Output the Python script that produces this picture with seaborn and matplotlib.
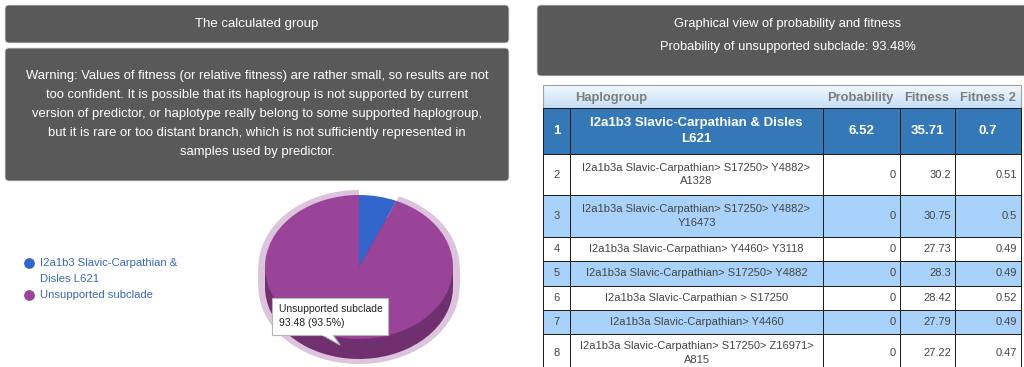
import textwrap
import numpy as np
import matplotlib
matplotlib.use('Agg')
import matplotlib.pyplot as plt
import matplotlib.patches as mpatches
from matplotlib.colors import ListedColormap, LinearSegmentedColormap
import seaborn as sns

# pie data
pie_labels = ['I2a1b3 Slavic-Carpathian & Disles L621', 'Unsupported subclade']
pie_values = [6.52, 93.48]
pie_colors = ['#3366cc', '#994499']

# table data
ranks = [1, 2, 3, 4, 5, 6, 7, 8]
haplogroups = [
    'I2a1b3 Slavic-Carpathian & Disles\nL621',
    'I2a1b3a Slavic-Carpathian> S17250> Y4882>\nA1328',
    'I2a1b3a Slavic-Carpathian> S17250> Y4882>\nY16473',
    'I2a1b3a Slavic-Carpathian> Y4460> Y3118',
    'I2a1b3a Slavic-Carpathian> S17250> Y4882',
    'I2a1b3a Slavic-Carpathian > S17250',
    'I2a1b3a Slavic-Carpathian> Y4460',
    'I2a1b3a Slavic-Carpathian> S17250> Z16971>\nA815',
]
probability = [6.52, 0, 0, 0, 0, 0, 0, 0]
fitness = [35.71, 30.2, 30.75, 27.73, 28.3, 28.42, 27.79, 27.22]
fitness2 = [0.7, 0.51, 0.5, 0.49, 0.49, 0.52, 0.49, 0.47]
columns = ['Haplogroup', 'Probability', 'Fitness', 'Fitness 2']

warning = [
    'Warning: Values of fitness (or relative fitness) are rather small, so results are not',
    'too confident. It is possible that its haplogroup is not supported by current',
    'version of predictor, or haplotype really belong to some supported haplogroup,',
    'but it is rare or too distant branch, which is not sufficiently represented in',
    'samples used by predictor.',
]

sns.set_theme(style='white')
plt.rcParams['font.family'] = ['Liberation Sans', 'DejaVu Sans']

W, H = 1024, 367
fig = plt.figure(figsize=(W / 100, H / 100), dpi=100)
fig.patch.set_facecolor('white')

bg = fig.add_axes([0, 0, 1, 1], zorder=0)
bg.axis('off')

box_c = '#595959'
for x, y, w, h in [(5, 5, 504, 38), (5, 48, 504, 133), (537, 5, 503, 71)]:
    bg.add_patch(mpatches.FancyBboxPatch((x, y), w, h, boxstyle='round,pad=0,rounding_size=4',
                                         fc=box_c, ec='#e0e0e0', lw=0.6))

bg.text(257, 24, 'The calculated group', color='white', fontsize=9.5, ha='center', va='center')
for i, line in enumerate(warning):
    bg.text(257, 76 + i * 19, line, color='white', fontsize=9.4, ha='center', va='center')

total = sum(pie_values)
bg.text(788, 24, 'Graphical view of probability and fitness', color='white',
        fontsize=9.3, ha='center', va='center')
bg.text(788, 47, f'Probability of unsupported subclade: {pie_values[1] / total * 100:.2f}%',
        color='white', fontsize=9.3, ha='center', va='center')

# legend
leg_y = 263
for lab, col in zip(pie_labels, pie_colors):
    bg.scatter([29], [leg_y], s=60, color=col, linewidths=0)
    for line in textwrap.wrap(lab, 26):
        bg.text(40, leg_y, line, color='#3a67b3', fontsize=8.1, ha='left', va='center')
        leg_y += 16

# table header with gradient
x_edges = [543, 570, 823, 900, 955, 1021]
y_edges = [108, 154, 195, 237, 261, 286, 310, 334, 378]
hdr_cmap = LinearSegmentedColormap.from_list('hdr', ['#f2f8fe', '#c6dff5'])
bg.imshow(np.linspace(0, 1, 40).reshape(-1, 1), extent=[x_edges[0], x_edges[-1], 108, 85],
          cmap=hdr_cmap, aspect='auto', origin='upper', zorder=1)
bg.add_patch(mpatches.Rectangle((x_edges[0], 85), x_edges[-1] - x_edges[0], 23,
                                fc='none', ec='#a0a0a0', lw=0.8, zorder=2))
for lab, x in zip(columns, [575, 827, 904, 960]):
    bg.text(x, 98, lab, color='#7d7d7d', fontsize=9.3, fontweight='bold', ha='left', va='center', zorder=3)

# table body
state = np.array([[2 if i == 0 else (1 if i % 2 == 0 else 0)] * 5 for i in range(len(ranks))])
row_cmap = ListedColormap(['#ffffff', '#a9d2fa', '#3478b8'])
bg.pcolormesh(x_edges, y_edges, state, cmap=row_cmap, vmin=-0.5, vmax=2.5,
              edgecolors='#1e1e1e', linewidth=0.55, zorder=2)

for i in range(len(ranks)):
    yc = (y_edges[i] + y_edges[i + 1]) / 2
    if i == len(ranks) - 1:
        yc = 353
    cells = [str(ranks[i]), haplogroups[i], f'{probability[i]:g}', f'{fitness[i]:g}', f'{fitness2[i]:g}']
    if i == 0:
        for j, t in enumerate(cells):
            xc = (x_edges[j] + x_edges[j + 1]) / 2
            bg.text(xc, yc, t, color='white', fontsize=9.5, fontweight='bold',
                    ha='center', va='center', linespacing=1.45, zorder=3)
    else:
        bg.text((x_edges[0] + x_edges[1]) / 2, yc, cells[0], color='#444444', fontsize=8.0,
                ha='center', va='center', zorder=3)
        bg.text((x_edges[1] + x_edges[2]) / 2, yc, cells[1], color='#444444', fontsize=8.0,
                ha='center', va='center', linespacing=1.4, multialignment='center', zorder=3)
        for j in (2, 3, 4):
            bg.text(x_edges[j + 1] - 4, yc, cells[j], color='#444444', fontsize=8.0,
                    ha='right', va='center', zorder=3)

bg.set_xlim(0, W)
bg.set_ylim(H, 0)

# 3D-looking pie
px0, py0, px1, py1 = 239, 180, 479, 367
cx, cy, rx, ry = 359, 267, 94, 72
pa = fig.add_axes([px0 / W, 1 - py1 / H, (px1 - px0) / W, (py1 - py0) / H], zorder=1)
depth = 20 / ry
ring = '#dcc4dc'
side = '#70306f'
kw = dict(startangle=90, counterclock=False, wedgeprops=dict(linewidth=0))
pa.pie(pie_values, colors=['none', ring], radius=1.07, center=(0, -depth), **kw)
pa.add_patch(mpatches.Rectangle((-1.07, -depth), 2.14, depth, fc=ring, ec='none'))
pa.pie(pie_values, colors=['none', ring], radius=1.07, center=(0, 0), **kw)
pa.pie(pie_values, colors=[side, side], radius=1, center=(0, -depth), **kw)
pa.add_patch(mpatches.Rectangle((-1, -depth), 2, depth, fc=side, ec='none'))
pa.pie(pie_values, colors=pie_colors, radius=1, center=(0, 0), **kw)
pa.set_aspect('auto')
pa.set_xlim(-(cx - px0) / rx, (px1 - cx) / rx)
pa.set_ylim(-(py1 - cy) / ry, (cy - py0) / ry)
pa.axis('off')

# tooltip
tip = fig.add_axes([0, 0, 1, 1], zorder=2)
tip.axis('off')
tip.patch.set_alpha(0)
tip.add_patch(mpatches.Rectangle((272, 298), 116, 37, fc='white', ec='#b5b5b5', lw=0.8))
tip.add_patch(mpatches.Polygon([(322, 335), (340, 345), (333, 335)], closed=False,
                               fc='white', ec='#b5b5b5', lw=0.8))
tip.plot([322.6, 332.4], [335, 335], color='white', lw=1.2)
tip.text(279, 309, pie_labels[1], color='#222222', fontsize=7.5, ha='left', va='center')
tip.text(279, 323, f'{pie_values[1]:.2f} ({pie_values[1] / total * 100:.1f}%)', color='#222222',
         fontsize=7.5, ha='left', va='center')
tip.set_xlim(0, W)
tip.set_ylim(H, 0)

fig.savefig('out.png', dpi=100)
